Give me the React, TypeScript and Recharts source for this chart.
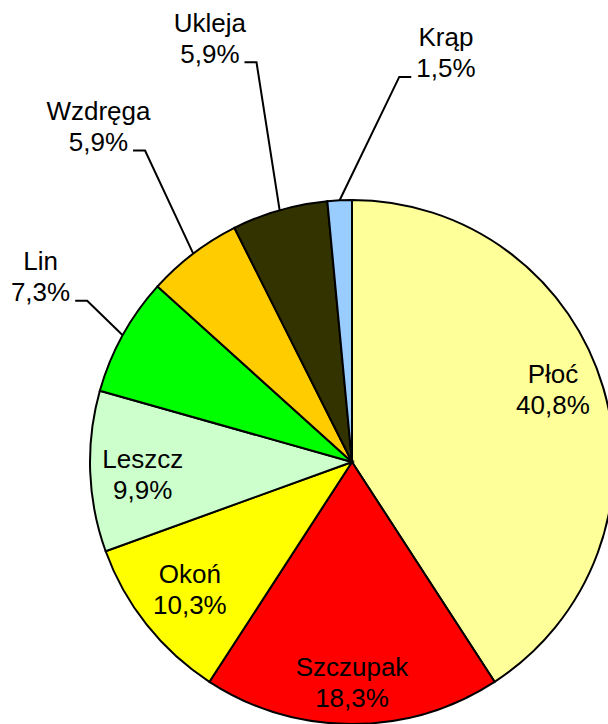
import React from 'react';
import { PieChart, Pie, Cell } from 'recharts';

// share of catch by species, clockwise from 12 o'clock
const species = ['Płoć', 'Szczupak', 'Okoń', 'Leszcz', 'Lin', 'Wzdręga', 'Ukleja', 'Krąp'];
const shares = [40.8, 18.3, 10.3, 9.9, 7.3, 5.9, 5.9, 1.5];
const colors = ['#FFFF99', '#FF0000', '#FFFF00', '#CCFFCC', '#00FF00', '#FFCC00', '#333300', '#99CCFF'];

// label placement relative to each slice's mid angle
// inside: fraction of the radius; outside: extra radius of the leader elbow. turn = extra clockwise degrees
const inside: Record<string, { r: number; turn: number }> = {
  Płoć: { r: 0.816, turn: -3.5 },
  Szczupak: { r: 0.84, turn: 0 },
  Okoń: { r: 0.787, turn: 0.3 },
  Leszcz: { r: 0.8, turn: -1.2 },
};
const leaders: Record<string, { ext: number; turn: number }> = {
  Lin: { ext: 48, turn: 2.4 },
  Wzdręga: { ext: 112, turn: 3.7 },
  Ukleja: { ext: 149, turn: 2.6 },
  Krąp: { ext: 126, turn: 9.7 },
};

const data = species.map((name, i) => ({ name, value: shares[i] }));

const FONT = '"Liberation Sans", Arial, sans-serif';
const FONT_SIZE = 26;
const LINE = 31;
const RAD = Math.PI / 180;

const fmt = (v: number) => v.toFixed(1).replace('.', ',') + '%';

// rough Arial widths, enough for the percentage strings
const textWidth = (s: string) =>
  s.split('').reduce((w, ch) => w + (ch === ',' ? 0.278 : ch === '%' ? 0.889 : 0.556), 0) * FONT_SIZE;

const polar = (cx: number, cy: number, r: number, angle: number) => ({
  x: cx + r * Math.cos(-angle * RAD),
  y: cy + r * Math.sin(-angle * RAD),
});

const renderLabel = (props: any) => {
  const { cx, cy, midAngle, outerRadius, index } = props;
  const name = species[index];
  const pct = fmt(shares[index]);
  const lead = leaders[name];

  if (!lead) {
    const pos = inside[name] || { r: 0.8, turn: 0 };
    const p = polar(cx, cy, outerRadius * pos.r, midAngle - pos.turn);
    return (
      <g fontFamily={FONT} fontSize={FONT_SIZE} fill="#000">
        <text x={p.x} y={p.y - LINE / 2} dy="0.35em" textAnchor="middle">{name}</text>
        <text x={p.x} y={p.y + LINE / 2} dy="0.35em" textAnchor="middle">{pct}</text>
      </g>
    );
  }

  const start = polar(cx, cy, outerRadius, midAngle);
  const elbow = polar(cx, cy, outerRadius + lead.ext, midAngle - lead.turn);
  const side = elbow.x < cx ? -1 : 1;
  const endX = elbow.x + side * 12;
  const tx = endX + side * (5 + textWidth(pct) / 2);
  const ty = elbow.y - 8.5;
  return (
    <g>
      <polyline
        points={`${start.x},${start.y} ${elbow.x},${elbow.y} ${endX},${elbow.y}`}
        fill="none"
        stroke="#000"
        strokeWidth={2}
      />
      <g fontFamily={FONT} fontSize={FONT_SIZE} fill="#000">
        <text x={tx} y={ty - LINE} dy="0.35em" textAnchor="middle">{name}</text>
        <text x={tx} y={ty} dy="0.35em" textAnchor="middle">{pct}</text>
      </g>
    </g>
  );
};

const App: React.FC = () => {
  return (
    <div style={{ position: 'absolute', left: 0, top: 0, width: 608, height: 724, overflow: 'hidden', background: '#fff' }}>
      <PieChart width={608} height={724} margin={{ top: 0, right: 0, bottom: 0, left: 0 }}>
        <Pie
          data={data}
          dataKey="value"
          nameKey="name"
          cx={352}
          cy={462}
          outerRadius={262}
          startAngle={90}
          endAngle={-270}
          stroke="#000"
          strokeWidth={2}
          label={renderLabel}
          labelLine={false}
          isAnimationActive={false}
        >
          {data.map((d, i) => (
            <Cell key={d.name} fill={colors[i]} />
          ))}
        </Pie>
      </PieChart>
    </div>
  );
};

export default App;
